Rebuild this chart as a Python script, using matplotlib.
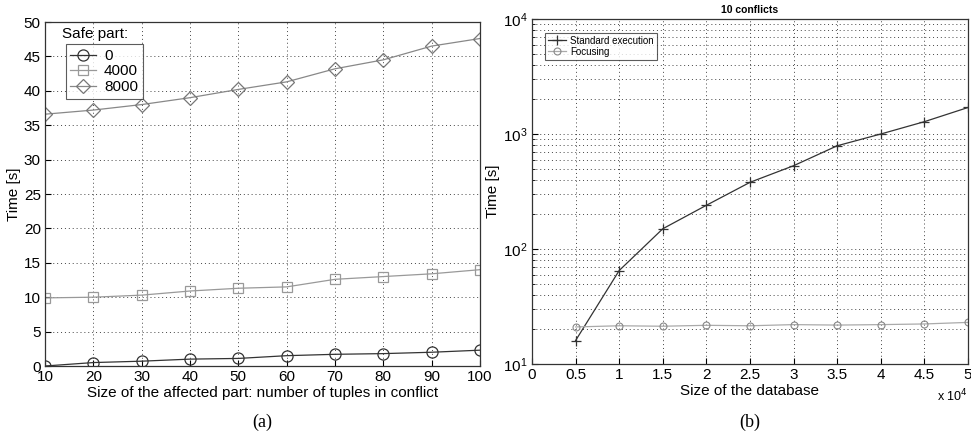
import numpy as np
import matplotlib
matplotlib.use('Agg')
import matplotlib.pyplot as plt
from matplotlib.ticker import LogLocator, NullFormatter

plt.rcParams['font.family'] = ['Liberation Sans', 'DejaVu Sans']

# (a) data
tuples = [10, 20, 30, 40, 50, 60, 70, 80, 90, 100]
safe_0 = [0.0, 0.5, 0.7, 1.0, 1.1, 1.5, 1.7, 1.8, 2.0, 2.3]
safe_4000 = [9.9, 10.0, 10.3, 10.9, 11.3, 11.5, 12.6, 13.0, 13.4, 14.0]
safe_8000 = [36.6, 37.2, 38.0, 39.0, 40.2, 41.3, 43.2, 44.5, 46.5, 47.6]

# (b) data
db_size = [5000, 10000, 15000, 20000, 25000, 30000, 35000, 40000, 45000, 50000]
standard = [16, 65, 150, 240, 380, 530, 790, 1000, 1280, 1700]
focusing = [21, 21.5, 21.3, 21.7, 21.5, 22, 21.8, 22, 22.3, 23]

fig = plt.figure(figsize=(9.71, 4.37), dpi=100)
W, H = 971, 437
ax1 = fig.add_axes([45 / W, 1 - 366 / H, 435 / W, 344 / H])
ax2 = fig.add_axes([532 / W, 1 - 364 / H, 436 / W, 345 / H])

grid_kw = dict(color='#444444', linestyle=(0, (1, 3)), linewidth=0.7)

# ---------- (a)
ax1.plot(tuples, safe_0, color='#333333', lw=0.9, marker='o', ms=8, mfc='none', mec='#333333', mew=0.9, label='0')
ax1.plot(tuples, safe_4000, color='#999999', lw=0.9, marker='s', ms=7, mfc='none', mec='#999999', mew=0.9, label='4000')
ax1.plot(tuples, safe_8000, color='#888888', lw=0.9, marker='D', ms=7, mfc='none', mec='#777777', mew=0.9, label='8000')
ax1.set_xlim(10, 100)
ax1.set_ylim(0, 50)
ax1.set_xticks(tuples)
ax1.set_yticks(range(0, 51, 5))
ax1.grid(True, **grid_kw)
ax1.set_xlabel('Size of the affected part: number of tuples in conflict', fontsize=11, labelpad=1)
ax1.set_ylabel('Time [s]', fontsize=11, labelpad=2)
ax1.tick_params(labelsize=11, direction='in', length=4, pad=3)
leg = ax1.legend(loc='upper left', bbox_to_anchor=(0.048, 0.935), borderaxespad=0, fontsize=11, frameon=True,
                 fancybox=False, edgecolor='#333333', handlelength=1.7, borderpad=0.3, labelspacing=0.1,
                 handletextpad=0.5)
leg.get_frame().set_linewidth(0.8)
ax1.text(0.04, 0.985, 'Safe part:', transform=ax1.transAxes, fontsize=11, va='top', ha='left')
ax1.text(0.5, -0.163, '(a)', transform=ax1.transAxes, fontsize=13, ha='center', va='center', family='Liberation Serif')

# ---------- (b)
ax2.semilogy(db_size, standard, color='#333333', lw=0.9, marker='+', ms=7, mew=0.9, label='Standard execution')
ax2.semilogy(db_size, focusing, color='#aaaaaa', lw=0.9, marker='o', ms=5, mfc='none', mec='#888888', mew=0.8, label='Focusing')
ax2.set_xlim(0, 50000)
ax2.set_ylim(10, 10000)
ax2.set_xticks(range(0, 50001, 5000))
ax2.set_xticklabels(['0', '0.5', '1', '1.5', '2', '2.5', '3', '3.5', '4', '4.5', '5'])
ax2.yaxis.set_major_locator(LogLocator(base=10, numticks=10))
ax2.yaxis.set_minor_locator(LogLocator(base=10, subs=np.arange(2, 10), numticks=10))
ax2.yaxis.set_minor_formatter(NullFormatter())
ax2.grid(True, which='both', **grid_kw)
ax2.set_xlabel('Size of the database', fontsize=11, labelpad=1)
ax2.set_ylabel('Time [s]', fontsize=11, labelpad=2)
ax2.set_title('10 conflicts', fontsize=7.5, fontweight='bold', pad=4)
ax2.tick_params(labelsize=11, direction='in', length=4, pad=3)
ax2.tick_params(which='minor', direction='in', length=2)
ax2.text(1.0, -0.092, r'x 10$^4$', transform=ax2.transAxes, fontsize=9, ha='right', va='center')
leg2 = ax2.legend(loc='upper left', bbox_to_anchor=(0.03, 0.96), borderaxespad=0, fontsize=7, frameon=True,
                  fancybox=False, edgecolor='#333333', handlelength=1.9, borderpad=0.3, labelspacing=0.1,
                  handletextpad=0.4)
leg2.get_frame().set_linewidth(0.8)
ax2.text(0.5, -0.168, '(b)', transform=ax2.transAxes, fontsize=13, ha='center', va='center', family='Liberation Serif')

for ax in (ax1, ax2):
    for s in ax.spines.values():
        s.set_linewidth(0.9)
        s.set_color('#333333')

fig.savefig('out.png', dpi=100)
